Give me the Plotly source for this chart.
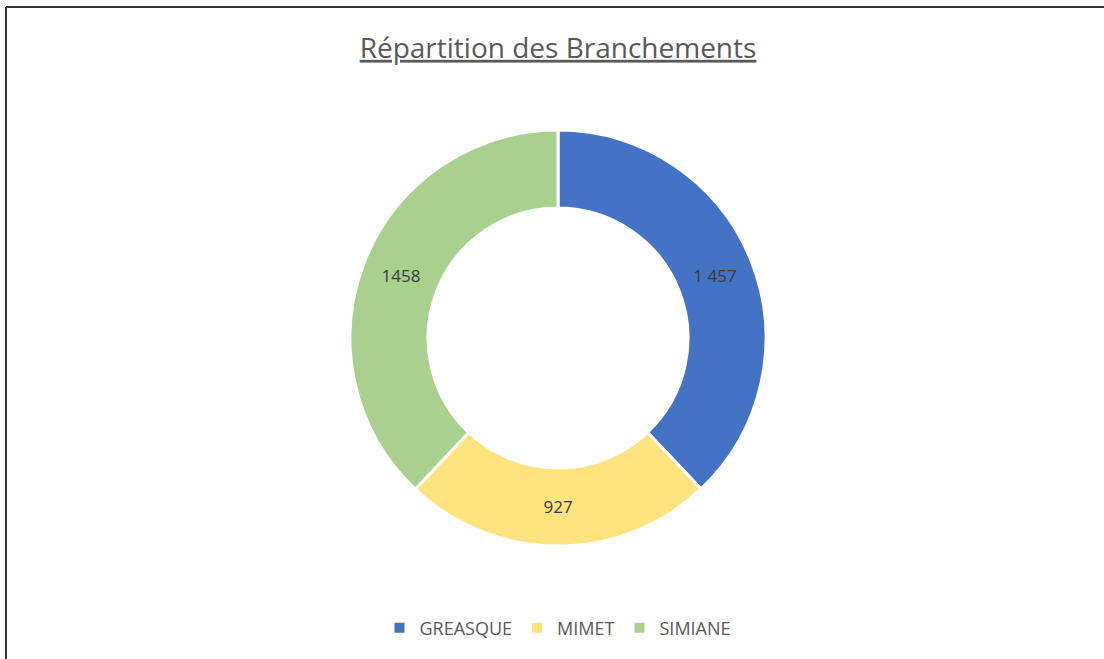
import plotly.graph_objects as go

categories = ["GREASQUE", "MIMET", "SIMIANE"]
values = [1457, 927, 1458]
value_labels = ["1 457", "927", "1458"]
colors = ["#4472C4", "#FFE37F", "#A9D08E"]

W, H = 1104, 659

fig = go.Figure(go.Pie(
    labels=categories,
    values=values,
    text=value_labels,
    texttemplate="%{text}",
    textposition="inside",
    insidetextorientation="horizontal",
    textfont=dict(family="Open Sans", size=17, color="#3a3a3a"),
    hole=0.625,
    sort=False,
    direction="clockwise",
    rotation=0,
    marker=dict(colors=colors, line=dict(color="white", width=3)),
    domain=dict(x=[350 / W, 766 / W], y=[1 - 546 / H, 1 - 130 / H]),
    hoverinfo="label+value",
))

fig.update_layout(
    width=W, height=H,
    margin=dict(l=0, r=0, t=0, b=0),
    paper_bgcolor="white",
    plot_bgcolor="white",
    title=dict(
        text="<u>Répartition des Branchements</u>",
        x=558 / W, xanchor="center",
        y=1 - 48 / H, yanchor="middle",
        font=dict(family="Open Sans", size=28, color="#595959"),
    ),
    legend=dict(
        orientation="h",
        x=558 / W, xanchor="center",
        y=1 - 628 / H, yanchor="middle",
        font=dict(family="Open Sans", size=18, color="#595959"),
        itemsizing="constant",
    ),
    shapes=[
        dict(type="line", xref="paper", yref="paper", x0=6 / W, x1=1.0, y0=1 - 7 / H, y1=1 - 7 / H,
             line=dict(color="#333333", width=2)),
        dict(type="line", xref="paper", yref="paper", x0=6 / W, x1=6 / W, y0=1 - 7 / H, y1=0,
             line=dict(color="#333333", width=2)),
    ],
)

fig.write_html("out.html", config={"displayModeBar": False},
               post_script="document.body.style.margin='0';")
